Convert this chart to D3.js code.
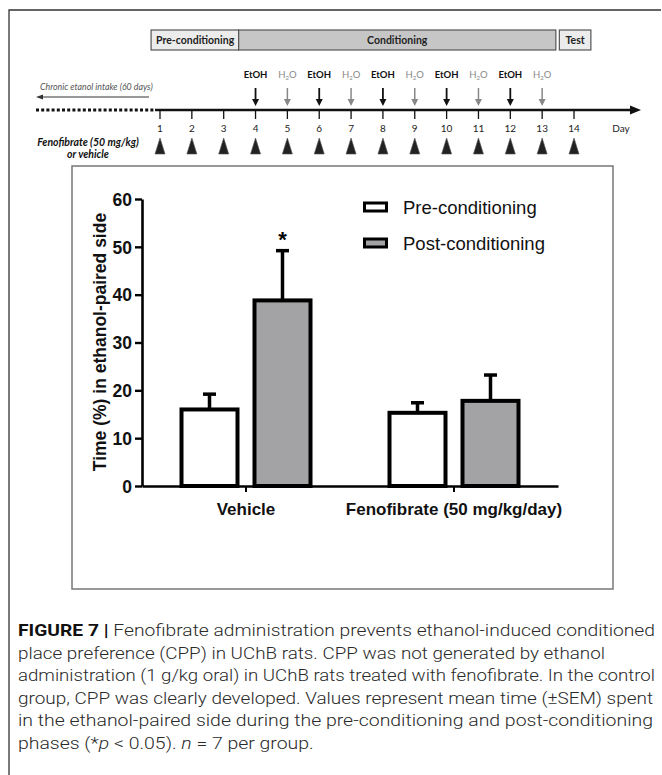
<!DOCTYPE html>
<html>
<head>
<meta charset="utf-8">
<script src="https://cdn.jsdelivr.net/npm/d3@7/dist/d3.min.js"></script>
<style>
  html, body { margin: 0; padding: 0; background: #fff; }
  svg { display: block; }
</style>
</head>
<body>
<svg id="fig" width="662" height="775"></svg>
<script>
// ---------------- DATA ----------------
const categories = ["Vehicle", "Fenofibrate (50 mg/kg/day)"];
const seriesNames = ["Pre-conditioning", "Post-conditioning"];
const preMean  = [16.0, 15.3];
const preSem   = [3.2, 2.1];
const postMean = [38.8, 17.8];
const postSem  = [10.4, 5.4];
const yTicks = [0, 10, 20, 30, 40, 50, 60];
const yTitle = "Time (%) in ethanol-paired side";
const significance = ["*", ""];   // over post-conditioning bars

// timeline
const days = [1,2,3,4,5,6,7,8,9,10,11,12,13,14];
const etohDays = [4, 6, 8, 10, 12];
const waterDays = [5, 7, 9, 11, 13];
const treatmentDays = [1,2,3,4,5,6,7,8,9,10,11,12,13,14];
const phaseNames = ["Pre-conditioning", "Conditioning", "Test"];
const phaseStart = [1, 4, 14];
const phaseEnd = [3, 13, 14];

const captionLines = [
  [["b","FIGURE 7 | "],["n","Fenofibrate administration prevents ethanol-induced conditioned"]],
  [["n","place preference (CPP) in UChB rats. CPP was not generated by ethanol"]],
  [["n","administration (1 g/kg oral) in UChB rats treated with fenofibrate. In the control"]],
  [["n","group, CPP was clearly developed. Values represent mean time (\u00B1SEM) spent"]],
  [["n","in the ethanol-paired side during the pre-conditioning and post-conditioning"]],
  [["n","phases (*"],["i","p"],["n"," < 0.05). "],["i","n"],["n"," = 7 per group."]]
];

// ---------------- DRAW ----------------
const svg = d3.select("#fig");

// outer frame (left and top)
svg.append("path").attr("d", "M9,775 L9,10 L661,10")
  .attr("fill", "none").attr("stroke", "#333").attr("stroke-width", 1.3);

// ---- timeline ----
const dx = d3.scaleLinear().domain([1, 14]).range([160, 574]);
const tlY = 110;
const tl = svg.append("g").attr("font-family", "Lato, 'Open Sans', sans-serif");

// phases
const phaseFill = ["#ececec", "#c6c6c6", "#ececec"];
phaseNames.forEach((p, i) => {
  let x0, x1;
  if (i === 0) { x0 = dx(phaseStart[i] - 0.28); x1 = dx(phaseEnd[i] + 0.47); }
  else if (i === 1) { x0 = dx(phaseStart[i] - 0.53); x1 = dx(phaseEnd[i] + 0.43); }
  else { x0 = dx(phaseStart[i] - 0.46); x1 = dx(phaseEnd[i] + 0.53); }
  tl.append("rect").attr("x", x0).attr("y", 30).attr("width", x1 - x0).attr("height", 20)
    .attr("fill", phaseFill[i]).attr("stroke", "#555").attr("stroke-width", 1.2);
  tl.append("text").attr("x", i === 0 ? x0 + 5 : (x0 + x1) / 2).attr("y", 44)
    .attr("text-anchor", i === 0 ? "start" : "middle")
    .attr("font-size", 10.5).attr("font-weight", "bold").attr("fill", "#222").text(p);
});

// dotted past
tl.append("line").attr("x1", 36).attr("x2", dx(1) - 5).attr("y1", tlY).attr("y2", tlY)
  .attr("stroke", "#111").attr("stroke-width", 3).attr("stroke-dasharray", "3,2.2");
// main line
tl.append("line").attr("x1", dx(1) - 5).attr("x2", 632).attr("y1", tlY).attr("y2", tlY)
  .attr("stroke", "#111").attr("stroke-width", 2.6);
tl.append("path").attr("d", `M641,${tlY} L630,${tlY - 4.5} L630,${tlY + 4.5} Z`).attr("fill", "#111");

// chronic intake arrow
tl.append("text").attr("x", 40).attr("y", 90).attr("font-size", 8.8).attr("font-style", "italic")
  .attr("fill", "#555").text("Chronic etanol intake (60 days)");
tl.append("line").attr("x1", 41).attr("x2", 149).attr("y1", 97).attr("y2", 97)
  .attr("stroke", "#333").attr("stroke-width", 1);
tl.append("path").attr("d", "M36,97 L43,94.5 L43,99.5 Z").attr("fill", "#333");

// day ticks and labels
days.forEach(d => {
  tl.append("line").attr("x1", dx(d)).attr("x2", dx(d)).attr("y1", tlY).attr("y2", tlY + 9)
    .attr("stroke", "#111").attr("stroke-width", 1.3);
  tl.append("text").attr("x", dx(d)).attr("y", 132).attr("text-anchor", "middle")
    .attr("font-size", 10).attr("fill", "#222").text(d);
});
tl.append("text").attr("x", 621).attr("y", 132).attr("text-anchor", "middle")
  .attr("font-size", 10).attr("fill", "#222").text("Day");

// injection arrows
function injArrow(d, color, w) {
  const x = dx(d);
  tl.append("line").attr("x1", x).attr("x2", x).attr("y1", 88).attr("y2", 100)
    .attr("stroke", color).attr("stroke-width", w);
  tl.append("path").attr("d", `M${x},106 L${x - 3.5},99 L${x + 3.5},99 Z`).attr("fill", color);
}
etohDays.forEach(d => {
  injArrow(d, "#111", 1.8);
  tl.append("text").attr("x", dx(d)).attr("y", 78).attr("text-anchor", "middle")
    .attr("font-size", 9.5).attr("font-weight", "bold").attr("fill", "#111").text("EtOH");
});
waterDays.forEach(d => {
  injArrow(d, "#888", 1.5);
  const t = tl.append("text").attr("x", dx(d)).attr("y", 78).attr("text-anchor", "middle")
    .attr("font-size", 9.5).attr("fill", "#888");
  t.append("tspan").text("H");
  t.append("tspan").attr("font-size", 6).attr("dy", 2).text("2");
  t.append("tspan").attr("dy", -2).text("O");
});

// treatment triangles
treatmentDays.forEach(d => {
  const x = dx(d);
  tl.append("path").attr("d", `M${x},138 L${x - 5},154 L${x + 5},154 Z`)
    .attr("fill", "#222").attr("stroke", "#555").attr("stroke-width", 0.6);
});
tl.append("text").attr("x", 88).attr("y", 146).attr("text-anchor", "middle")
  .attr("font-size", 10.5).attr("font-weight", "bold").attr("font-style", "italic")
  .attr("fill", "#111").text("Fenofibrate (50 mg/kg)");
tl.append("text").attr("x", 88).attr("y", 158).attr("text-anchor", "middle")
  .attr("font-size", 10.5).attr("font-weight", "bold").attr("font-style", "italic")
  .attr("fill", "#111").text("or vehicle");

// ---- chart panel ----
svg.append("rect").attr("x", 72).attr("y", 166).attr("width", 541).attr("height", 423)
  .attr("fill", "#fff").attr("stroke", "#777").attr("stroke-width", 1.5);

const chart = svg.append("g").attr("font-family", "'Liberation Sans', Arial, sans-serif");
const y = d3.scaleLinear().domain([0, 60]).range([486, 199]);
const x0 = d3.scaleBand().domain(categories).range([142, 558]);
const x1 = d3.scaleBand().domain(seriesNames).range([-66.5, 66.5]).paddingInner(0.178);

const fills = ["#ffffff", "#a3a3a6"];
const means = [preMean, postMean];
const sems = [preSem, postSem];

categories.forEach((c, ci) => {
  const cx = x0(c) + x0.bandwidth() / 2;
  seriesNames.forEach((s, si) => {
    const bx = cx + x1(s);
    const bw = x1.bandwidth();
    const m = means[si][ci], e = sems[si][ci];
    const mid = bx + bw / 2;
    // error bar (upper only)
    chart.append("line").attr("x1", mid).attr("x2", mid).attr("y1", y(m)).attr("y2", y(m + e))
      .attr("stroke", "#000").attr("stroke-width", 3.5);
    chart.append("line").attr("x1", mid - 6.5).attr("x2", mid + 6.5).attr("y1", y(m + e)).attr("y2", y(m + e))
      .attr("stroke", "#000").attr("stroke-width", 3.5);
    chart.append("rect").attr("x", bx + 2).attr("y", y(m)).attr("width", bw - 4).attr("height", y(0) - y(m))
      .attr("fill", fills[si]).attr("stroke", "#000").attr("stroke-width", 4);
    if (si === 1 && significance[ci]) {
      chart.append("text").attr("x", mid).attr("y", y(m + e) - 4).attr("text-anchor", "middle")
        .attr("font-size", 22).attr("font-weight", "bold").text(significance[ci]);
    }
  });
});

// y axis
const yAxis = chart.append("g").attr("transform", "translate(142,0)")
  .call(d3.axisLeft(y).tickValues(yTicks).tickSize(7).tickSizeOuter(0).tickPadding(3));
yAxis.select(".domain").attr("stroke", "#000").attr("stroke-width", 2.6);
yAxis.selectAll(".tick line").attr("stroke", "#000").attr("stroke-width", 2.4);
yAxis.selectAll(".tick text").attr("font-size", 17.5).attr("font-weight", "bold")
  .attr("font-family", "'Liberation Sans', Arial, sans-serif").attr("fill", "#111").attr("dy", "0.36em");

// x axis
const xAxis = chart.append("g").attr("transform", "translate(0,486)")
  .call(d3.axisBottom(x0).tickSize(6).tickSizeOuter(0).tickPadding(11));
xAxis.select(".domain").attr("stroke", "#000").attr("stroke-width", 2.6);
xAxis.selectAll(".tick line").attr("stroke", "#000").attr("stroke-width", 2);
xAxis.selectAll(".tick text").attr("font-size", 17).attr("font-weight", "bold")
  .attr("font-family", "'Liberation Sans', Arial, sans-serif").attr("fill", "#111");

// y title
chart.append("text").attr("transform", "translate(106,342) rotate(-90)").attr("text-anchor", "middle")
  .attr("font-size", 17.5).attr("font-weight", "bold").attr("fill", "#111").text(yTitle);

// legend
seriesNames.forEach((s, i) => {
  const ly = 207 + i * 36;
  chart.append("rect").attr("x", 364.5).attr("y", ly - 4).attr("width", 22).attr("height", 8)
    .attr("fill", fills[i]).attr("stroke", "#000").attr("stroke-width", 3);
  chart.append("text").attr("x", 403).attr("y", ly + 6.5).attr("font-size", 18.5)
    .attr("fill", "#111").text(s);
});

// ---- caption ----
const cap = svg.append("g").attr("font-family", "Roboto, 'Liberation Sans', Arial, sans-serif")
  .attr("font-weight", 300).attr("fill", "#2a2a2a").attr("font-size", 17);
const capWidths = [637, 587, 637, 635, 635, null];
const capNodes = captionLines.map((line, i) => {
  const t = cap.append("text").attr("x", 18).attr("y", 636 + i * 22.6);
  line.forEach(([k, s]) => {
    const ts = t.append("tspan").text(s);
    if (k === "b") ts.attr("font-weight", "bold").attr("fill", "#111");
    if (k === "i") ts.attr("font-style", "italic");
  });
  return t;
});
const natural = capNodes.map(t => t.node().getComputedTextLength());
const factor = capWidths[4] / natural[4];
capNodes.forEach((t, i) => t.attr("textLength", capWidths[i] || natural[i] * factor)
  .attr("lengthAdjust", "spacingAndGlyphs"));
</script>
</body>
</html>
